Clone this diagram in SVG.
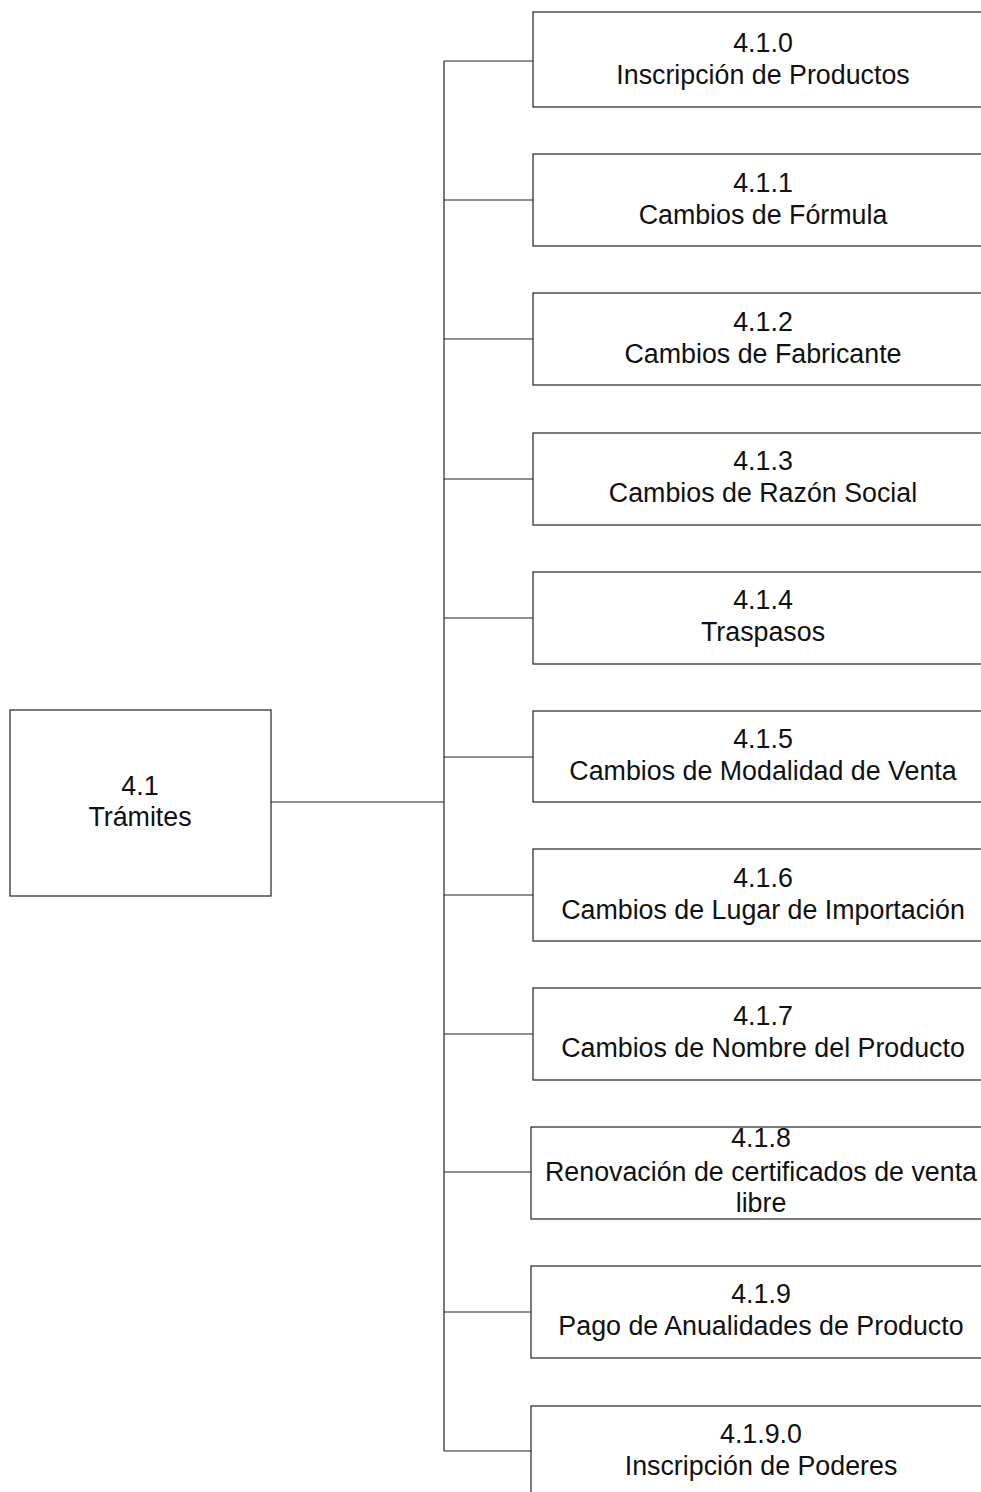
<svg xmlns="http://www.w3.org/2000/svg" width="981" height="1492" viewBox="0 0 981 1492">
<style>
.box{fill:#fff;stroke:#222;stroke-width:1.2}
.ln{stroke:#222;stroke-width:1.2;fill:none}
text{font-family:"Liberation Sans",Arial,sans-serif;font-size:26.8px;fill:#111;text-anchor:middle}
</style>
<rect width="981" height="1492" fill="#fff"/>
<g id="connectors">
<path class="ln" d="M271,802H444M444,61V1451"/>
<path class="ln" d="M444,61H533M444,200H533M444,339H533M444,479H533M444,618H533M444,757H533M444,895H533M444,1034H533M444,1172H531M444,1312H531M444,1451H531"/>
</g>
<g id="n41"><rect class="box" x="10" y="710" width="261" height="186"/><text x="140" y="795">4.1</text><text x="140" y="826">Trámites</text></g>
<g id="n410"><rect class="box" x="533" y="12" width="460" height="95"/><text x="763" y="52">4.1.0</text><text x="763" y="84">Inscripción de Productos</text></g>
<g id="n411"><rect class="box" x="533" y="154" width="460" height="92"/><text x="763" y="192">4.1.1</text><text x="763" y="224">Cambios de Fórmula</text></g>
<g id="n412"><rect class="box" x="533" y="293" width="460" height="92"/><text x="763" y="331">4.1.2</text><text x="763" y="363">Cambios de Fabricante</text></g>
<g id="n413"><rect class="box" x="533" y="433" width="460" height="92"/><text x="763" y="470">4.1.3</text><text x="763" y="502">Cambios de Razón Social</text></g>
<g id="n414"><rect class="box" x="533" y="572" width="460" height="92"/><text x="763" y="609">4.1.4</text><text x="763" y="641">Traspasos</text></g>
<g id="n415"><rect class="box" x="533" y="711" width="460" height="91"/><text x="763" y="748">4.1.5</text><text x="763" y="780">Cambios de Modalidad de Venta</text></g>
<g id="n416"><rect class="box" x="533" y="849" width="460" height="92"/><text x="763" y="887">4.1.6</text><text x="763" y="919">Cambios de Lugar de Importación</text></g>
<g id="n417"><rect class="box" x="533" y="988" width="460" height="92"/><text x="763" y="1025">4.1.7</text><text x="763" y="1057">Cambios de Nombre del Producto</text></g>
<g id="n418"><rect class="box" x="531" y="1127" width="460" height="92"/><text x="761" y="1147">4.1.8</text><text x="761" y="1181">Renovación de certificados de venta</text><text x="761" y="1212">libre</text></g>
<g id="n419"><rect class="box" x="531" y="1266" width="460" height="92"/><text x="761" y="1303">4.1.9</text><text x="761" y="1335">Pago de Anualidades de Producto</text></g>
<g id="n4190"><rect class="box" x="531" y="1406" width="460" height="100"/><text x="761" y="1443">4.1.9.0</text><text x="761" y="1475">Inscripción de Poderes</text></g>
</svg>
